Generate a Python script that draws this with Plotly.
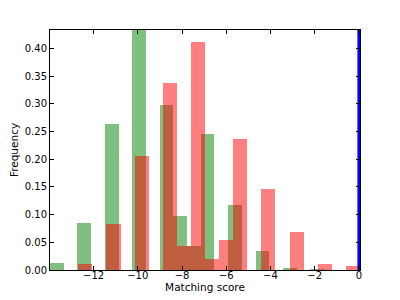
import plotly.graph_objects as go

# Histogram data (density-normalised frequencies)
green_bin_start = -13.97
green_bin_width = 0.6196
green_freq = [0.013, 0.0, 0.085, 0.0, 0.263, 0.0, 0.433, 0.0, 0.298, 0.097,
              0.043, 0.246, 0.0, 0.118, 0.0, 0.034, 0.0, 0.004, 0.0, 0.002]

red_bin_start = -12.69
red_bin_width = 0.637
red_freq = [0.010, 0.0, 0.083, 0.0, 0.205, 0.0, 0.338, 0.044, 0.411, 0.019,
            0.054, 0.236, 0.0, 0.146, 0.0, 0.069, 0.0, 0.011, 0.0, 0.007]

marker_x = 0.0  # vertical reference line

x_ticks = [-12, -10, -8, -6, -4, -2, 0]
y_ticks = [0.00, 0.05, 0.10, 0.15, 0.20, 0.25, 0.30, 0.35, 0.40]
x_range = [-13.97, 0.05]
y_range = [0, 0.433]

green_x = [green_bin_start + (i + 0.5) * green_bin_width for i in range(len(green_freq))]
red_x = [red_bin_start + (i + 0.5) * red_bin_width for i in range(len(red_freq))]

fig = go.Figure()
fig.add_trace(go.Bar(x=green_x, y=green_freq, width=green_bin_width,
                     marker=dict(color="rgba(0,128,0,0.5)", line=dict(width=0)),
                     showlegend=False))
fig.add_trace(go.Bar(x=red_x, y=red_freq, width=red_bin_width,
                     marker=dict(color="rgba(255,0,0,0.5)", line=dict(width=0)),
                     showlegend=False))
fig.add_trace(go.Scatter(x=[marker_x, marker_x], y=[y_range[0], y_range[1]],
                         mode="lines", line=dict(color="#0000ff", width=3),
                         showlegend=False, hoverinfo="skip"))

axis_common = dict(showgrid=False, zeroline=False, showline=True, linecolor="black",
                   linewidth=1, mirror="allticks", ticks="inside", ticklen=4,
                   tickcolor="black", tickwidth=1, automargin=False,
                   tickfont=dict(family="DejaVu Sans", size=10, color="black"))

fig.update_layout(
    width=400, height=300,
    margin=dict(l=50, r=40, t=30, b=30),
    paper_bgcolor="white", plot_bgcolor="white",
    barmode="overlay", bargap=0,
    font=dict(family="DejaVu Sans", size=10, color="black"),
    xaxis=dict(range=x_range, tickvals=x_ticks, ticktext=[("\u2212" + str(-v)) if v < 0 else str(v) for v in x_ticks],
               title=dict(text="Matching score", standoff=0, font=dict(size=10.5)),
               ticklabelstandoff=-4,
               **axis_common),
    yaxis=dict(range=y_range, tickvals=y_ticks, ticktext=["%.2f" % v for v in y_ticks],
               title=dict(text="Frequency", standoff=4, font=dict(size=10.5)),
               **axis_common),
)

fig.write_html("out.html")
